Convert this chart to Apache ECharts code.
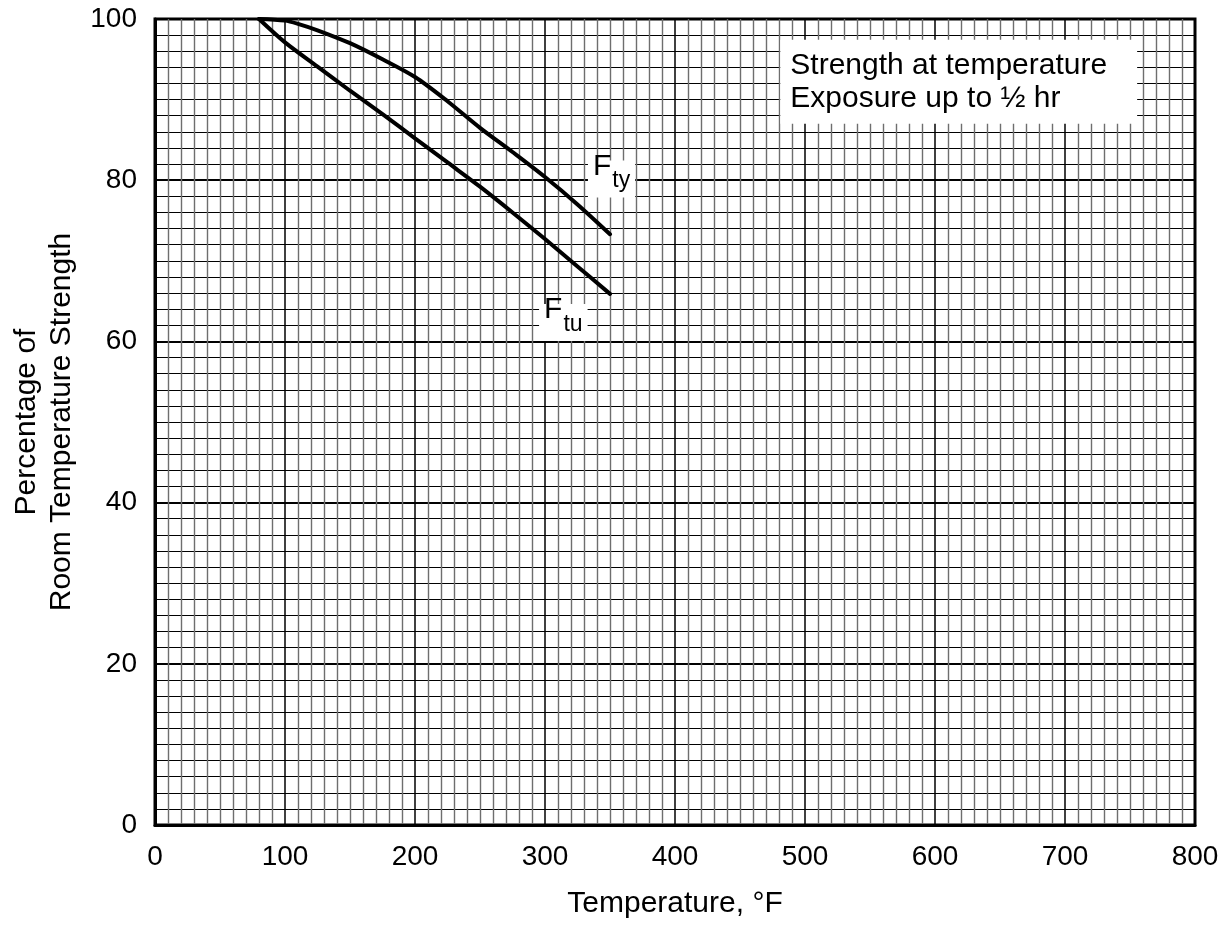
<!DOCTYPE html>
<html>
<head>
<meta charset="utf-8">
<script src="https://cdn.jsdelivr.net/npm/echarts@6/dist/echarts.min.js"></script>
<style>html,body{margin:0;padding:0;background:#fff;}#c{width:1230px;height:925px;}</style>
</head>
<body>
<div id="c"></div>
<script>
const ftuTemp = [80, 100, 125, 150, 175, 200, 225, 250, 275, 300, 325, 350];
const ftuPct  = [100, 97.1, 94.1, 91.1, 88.2, 85.2, 82.2, 79.2, 76.0, 72.7, 69.3, 65.9];
const ftyTemp = [80, 100, 110, 125, 150, 175, 200, 225, 250, 275, 300, 325, 350];
const ftyPct  = [100, 99.8, 99.4, 98.6, 97.0, 95.0, 92.8, 89.8, 86.5, 83.5, 80.4, 77.0, 73.3];
const xTicks = [0, 100, 200, 300, 400, 500, 600, 700, 800];
const yTicks = [0, 20, 40, 60, 80, 100];
const labelFty = [351.2, 80.15];
const labelFtu = [314.1, 62.35];
const notePos = [481, 92.2];
const noteLines = ['Strength at temperature', 'Exposure up to \u00bd hr'];

const FONT = 'Liberation Sans, Arial, sans-serif';
const chart = echarts.init(document.getElementById('c'), null, {renderer: 'canvas'});
const pairs = (xs, ys) => xs.map((x, i) => [x, ys[i]]);

chart.setOption({
  backgroundColor: '#fff',
  animation: false,
  grid: {left: 155, right: 35, top: 19, bottom: 100, outerBoundsMode: 'none', containLabel: false,
         show: true, borderColor: '#000', borderWidth: 3, backgroundColor: 'transparent'},
  xAxis: {
    type: 'value', min: xTicks[0], max: xTicks[xTicks.length - 1], interval: 100,
    name: 'Temperature, \u00b0F', nameLocation: 'middle', nameGap: 64, nameMoveOverlap: false,
    nameTextStyle: {fontFamily: FONT, fontSize: 30, color: '#000'},
    axisLine: {show: true, lineStyle: {color: '#000', width: 3}},
    axisTick: {show: false},
    axisLabel: {fontFamily: FONT, fontSize: 28, color: '#000', margin: 18},
    splitLine: {show: true, lineStyle: {color: '#000', width: 1.5}},
    minorTick: {show: false, splitNumber: 10},
    minorSplitLine: {show: true, lineStyle: {color: '#6e6e6e', width: 1.4}}
  },
  yAxis: {
    type: 'value', min: yTicks[0], max: yTicks[yTicks.length - 1], interval: 20,
    name: 'Percentage of\nRoom Temperature Strength', nameLocation: 'middle', nameGap: 76, nameRotate: 90,
    nameMoveOverlap: false,
    nameTextStyle: {fontFamily: FONT, fontSize: 30, color: '#000', lineHeight: 35},
    axisLine: {show: true, lineStyle: {color: '#000', width: 3}},
    axisTick: {show: false},
    axisLabel: {fontFamily: FONT, fontSize: 28, color: '#000', margin: 18},
    splitLine: {show: true, lineStyle: {color: '#000', width: 1.8}},
    minorTick: {show: false, splitNumber: 10},
    minorSplitLine: {show: true, lineStyle: {color: '#000', width: 1.2}}
  },
  series: [
    {type: 'line', name: 'Fty', data: pairs(ftyTemp, ftyPct), smooth: 0.3, symbol: 'none',
     lineStyle: {color: '#000', width: 4, cap: 'round'}, z: 5},
    {type: 'line', name: 'Ftu', data: pairs(ftuTemp, ftuPct), smooth: 0.3, symbol: 'none',
     lineStyle: {color: '#000', width: 4, cap: 'round'}, z: 5},
    {type: 'scatter', symbolSize: 0, z: 6, silent: true, itemStyle: {opacity: 1},
     data: [
       {value: labelFty, label: {formatter: '{f|F}{s|ty}'}},
       {value: labelFtu, label: {formatter: '{f|F}{s|tu}'}}
     ],
     label: {show: true, position: 'inside', backgroundColor: '#fff', padding: [2, 5, 5, 5],
       color: '#000', textBorderWidth: 0,
       rich: {
         f: {fontFamily: FONT, fontSize: 30, color: '#000', textBorderWidth: 0, verticalAlign: 'bottom', lineHeight: 30, padding: [0, 0, 11, 0]},
         s: {fontFamily: FONT, fontSize: 23, color: '#000', textBorderWidth: 0, verticalAlign: 'bottom', lineHeight: 24, padding: [0, 0, 0, 1]}
       }}
    },
    {type: 'scatter', symbolSize: 0, z: 6, silent: true, itemStyle: {opacity: 1},
     data: [{value: notePos}],
     label: {show: true, position: 'inside', backgroundColor: '#fff', padding: [8, 30, 10, 10],
       formatter: noteLines.join('\n'), align: 'left', verticalAlign: 'middle',
       fontFamily: FONT, fontSize: 30, color: '#000', textBorderWidth: 0, lineHeight: 33}
    }
  ]
});
</script>
</body>
</html>
